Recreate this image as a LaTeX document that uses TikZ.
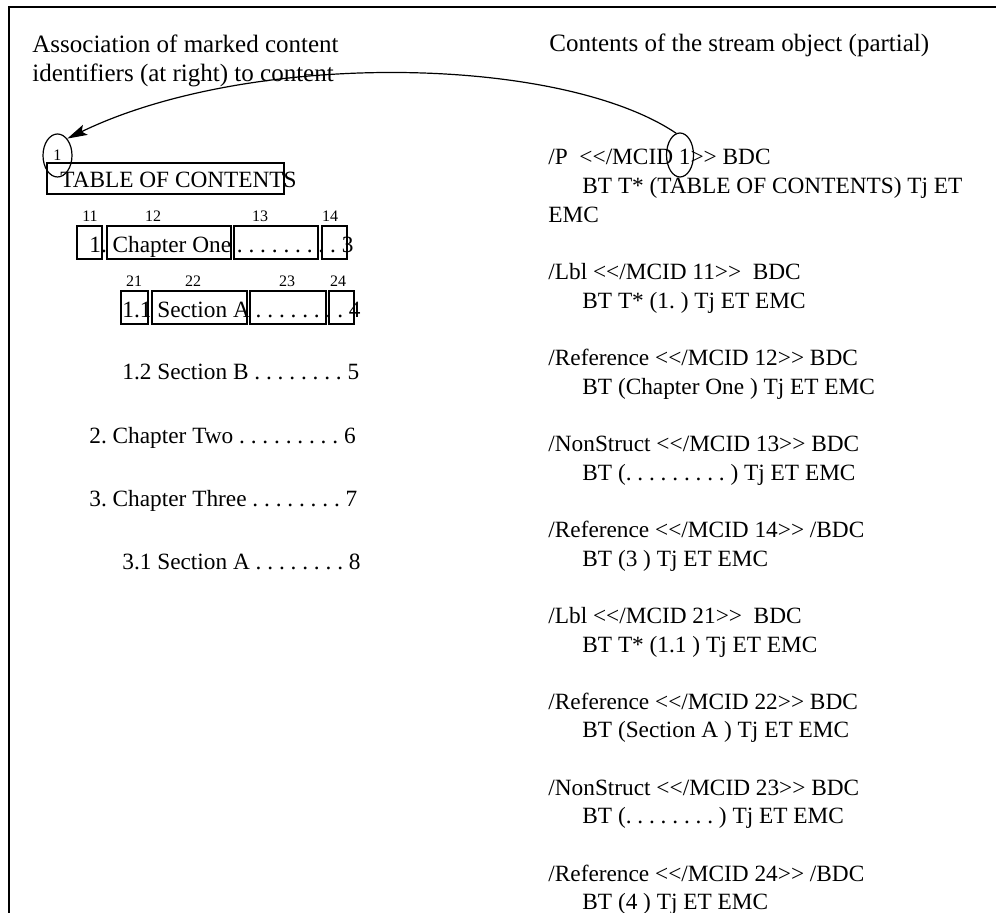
\documentclass[tikz,border=0pt]{standalone}
\usepackage{fontspec}
\setmainfont{Liberation Serif}
\usetikzlibrary{shapes.geometric,arrows.meta}
\newcommand\mcopen{<{}<}
\newcommand\mcclose{>{}>}
\tikzset{
txt/.style={anchor=base west,inner sep=0pt,font=\fontsize{11.65}{14}\selectfont\frenchspacing},
head/.style={txt,font=\fontsize{12.5}{15}\selectfont\frenchspacing},
num/.style={anchor=base,inner sep=0pt,font=\fontsize{8}{9}\selectfont},
mcbox/.style={draw,line width=1pt},
ring/.style={draw,ellipse,line width=0.6pt,inner sep=0pt}
}

\begin{document}
\begin{tikzpicture}[x=0.5pt,y=-0.5pt]
\useasboundingbox (0,0) rectangle (996,913);
\draw[line width=1pt] (9,913)--(9,7)--(996,7);

\node[head] (assoc1) at (32,53) {Association of marked content};
\node[head] (assoc2) at (32,82) {identifiers (at right) to content};
\node[head] (stream) at (549,52) {Contents of the stream object (partial)};

\node[ring,minimum width=14.5pt,minimum height=21.5pt] (mcidL) at (57.5,155.5) {\fontsize{8}{9}\selectfont 1};
\node[txt] (toc) at (60,188) {TABLE OF CONTENTS};
\draw[mcbox] (47,163) rectangle (284,194);

\node[num] (n11) at (90,222) {11};
\node[num] (n12) at (153,222) {12};
\node[num] (n13) at (260,222) {13};
\node[num] (n14) at (330,222) {14};
\node[txt] (chap1) at (89,253) {1. Chapter One . . . . . . . . . 3};
\draw[mcbox] (77,226) rectangle (102,259)
(107,226) rectangle (231,259)
(234,226) rectangle (318,259)
(322,226) rectangle (347,259);

\node[num] (n21) at (134,287) {21};
\node[num] (n22) at (193,287) {22};
\node[num] (n23) at (287,287) {23};
\node[num] (n24) at (338,287) {24};
\node[txt] (sec11) at (122,318) {1.1 Section A . . . . . . . . 4};
\draw[mcbox] (121,291) rectangle (148,324)
(152,291) rectangle (247,324)
(250,291) rectangle (326,324)
(329,291) rectangle (354,324);

\node[txt] (sec12) at (122,380) {1.2 Section B . . . . . . . . 5};
\node[txt] (chap2) at (89,444) {2. Chapter Two . . . . . . . . . 6};
\node[txt] (chap3) at (89,507) {3. Chapter Three . . . . . . . . 7};
\node[txt] (sec31) at (122,570) {3.1 Section A . . . . . . . . 8};

\node[txt] (p1) at (548,165) {/P\ \ \mcopen/MCID 1\mcclose{} BDC};
\node[txt] (p1bt) at (582,193.7) {BT T* (TABLE OF CONTENTS) Tj ET};
\node[txt] (p1emc) at (548,222.3) {EMC};
\node[txt] (lbl11) at (548,279.6) {/Lbl \mcopen/MCID 11\mcclose\ \ BDC};
\node[txt] (lbl11bt) at (582,308.3) {BT T* (1. ) Tj ET EMC};
\node[txt] (ref12) at (548,365.6) {/Reference \mcopen/MCID 12\mcclose{} BDC};
\node[txt] (ref12bt) at (582,394.2) {BT (Chapter One ) Tj ET EMC};
\node[txt] (ns13) at (548,451.5) {/NonStruct \mcopen/MCID 13\mcclose{} BDC};
\node[txt] (ns13bt) at (582,480.2) {BT (. . . . . . . . . ) Tj ET EMC};
\node[txt] (ref14) at (548,537.5) {/Reference \mcopen/MCID 14\mcclose{} /BDC};
\node[txt] (ref14bt) at (582,566.1) {BT (3 ) Tj ET EMC};
\node[txt] (lbl21) at (548,623.4) {/Lbl \mcopen/MCID 21\mcclose\ \ BDC};
\node[txt] (lbl21bt) at (582,652.1) {BT T* (1.1 ) Tj ET EMC};
\node[txt] (ref22) at (548,709.4) {/Reference \mcopen/MCID 22\mcclose{} BDC};
\node[txt] (ref22bt) at (582,738) {BT (Section A ) Tj ET EMC};
\node[txt] (ns23) at (548,795.3) {/NonStruct \mcopen/MCID 23\mcclose{} BDC};
\node[txt] (ns23bt) at (582,824) {BT (. . . . . . . . ) Tj ET EMC};
\node[txt] (ref24) at (548,881.3) {/Reference \mcopen/MCID 24\mcclose{} /BDC};
\node[txt] (ref24bt) at (582,909.9) {BT (4 ) Tj ET EMC};

\node[ring,minimum width=13.5pt,minimum height=22pt] (mcidR) at (680,155) {};
\draw[line width=0.6pt,-{Stealth[length=10pt,width=5.5pt,inset=2pt]}] (mcidR.100) .. controls (560,55) and (250,50) .. (mcidL.60);
\end{tikzpicture}
\end{document}
